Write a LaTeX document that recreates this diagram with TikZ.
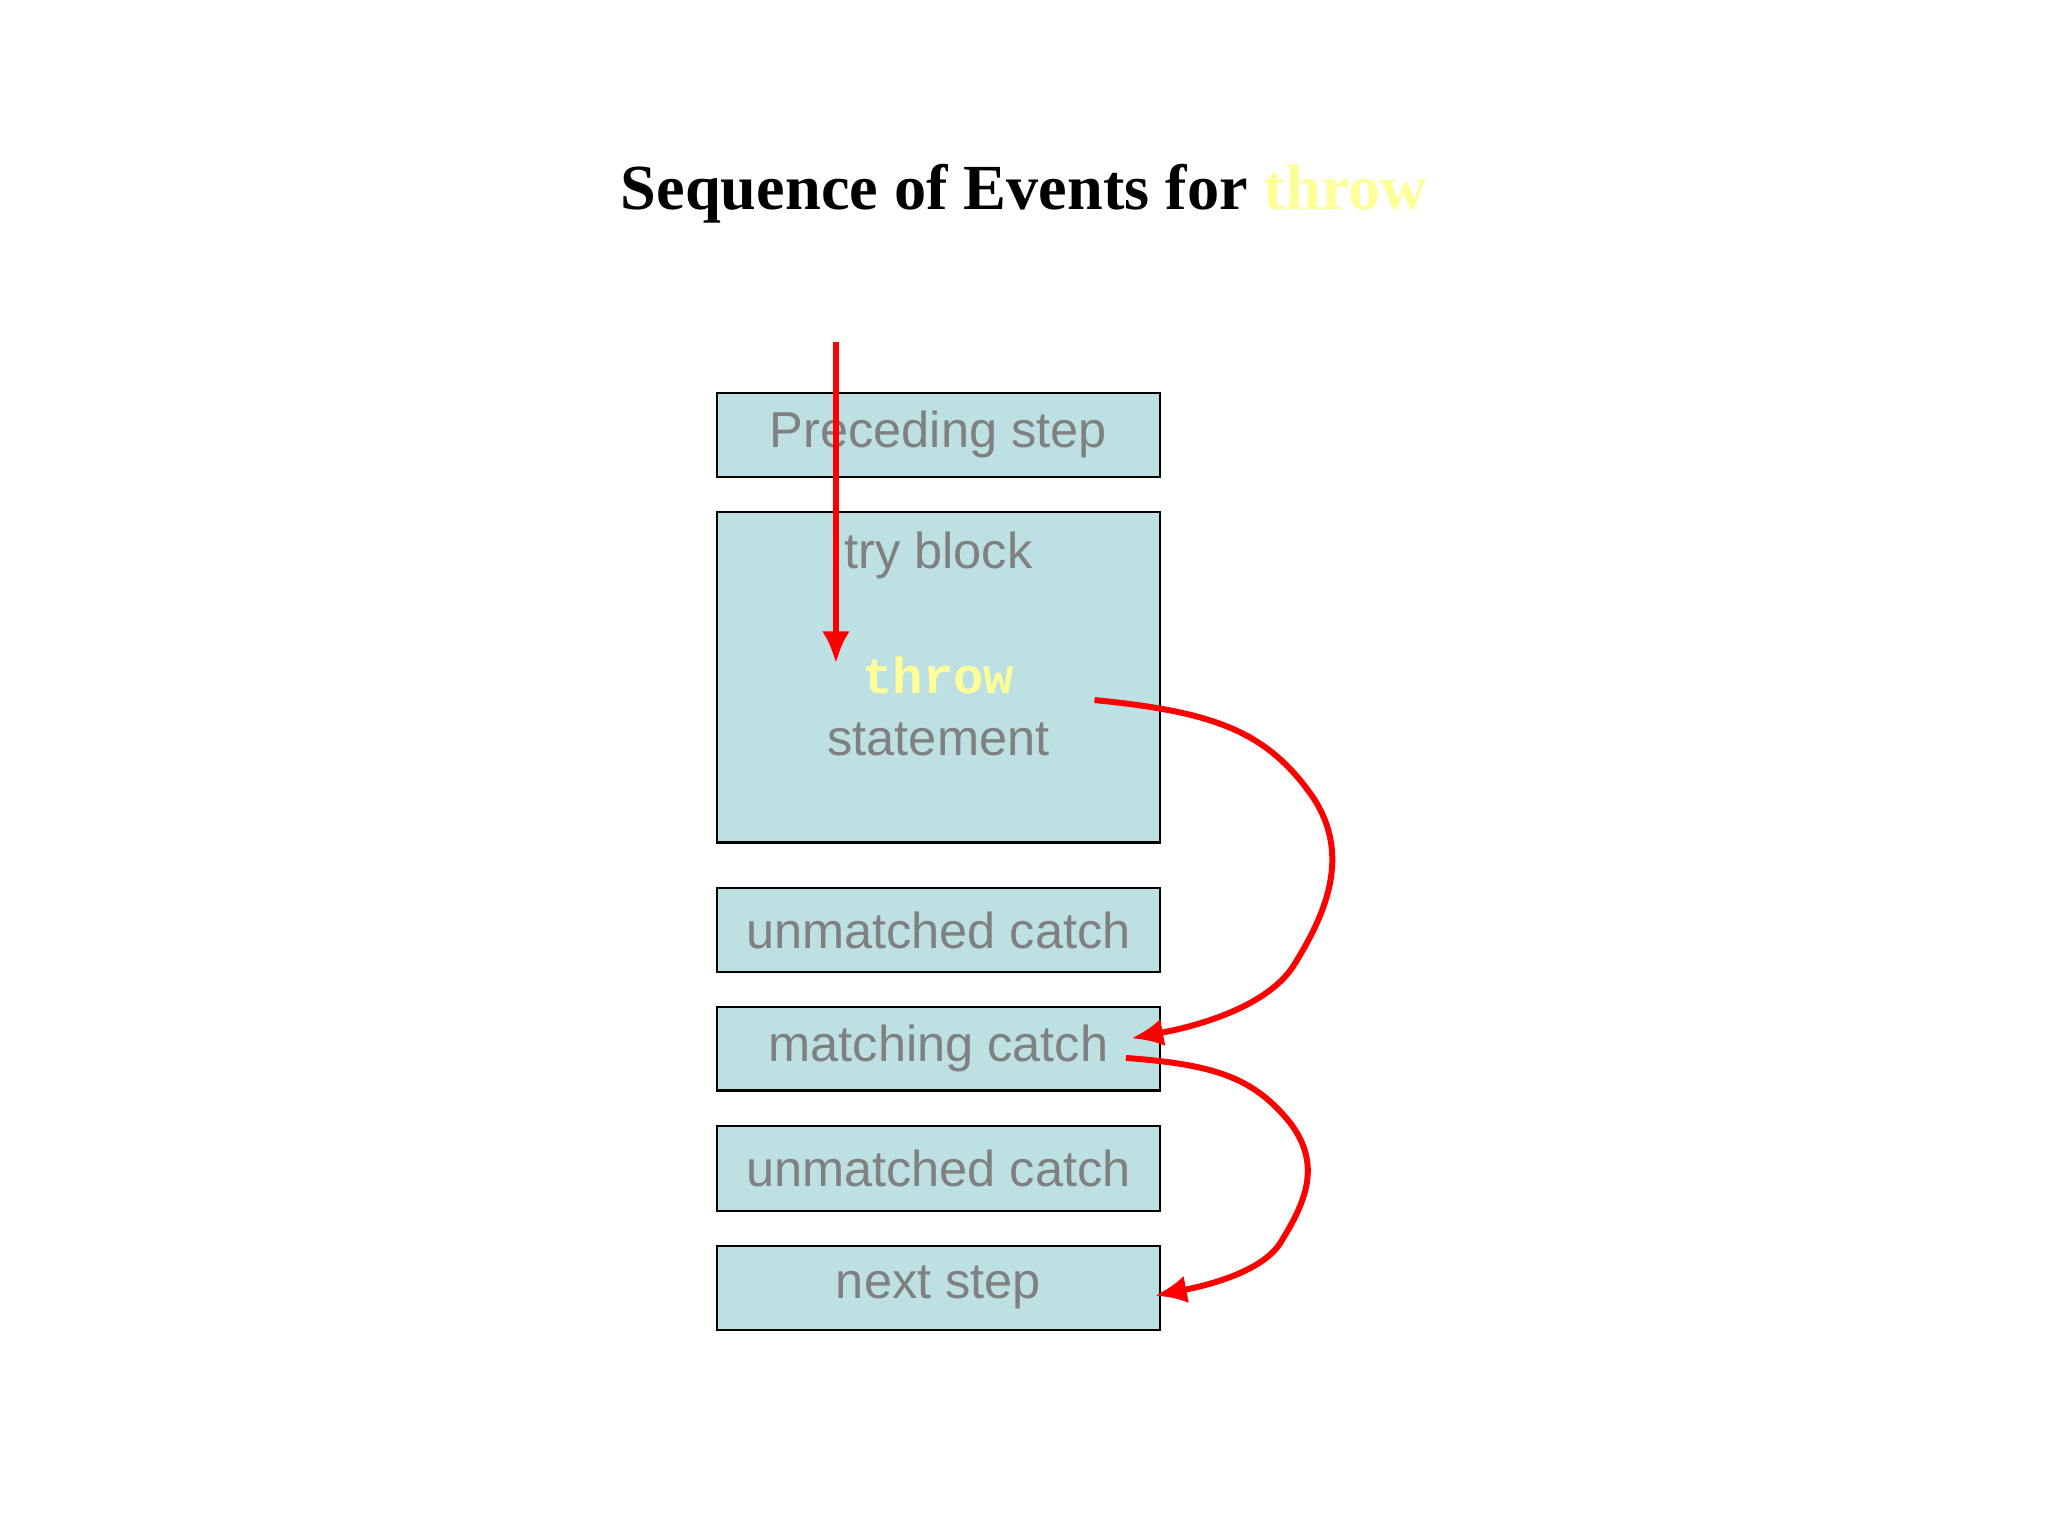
\documentclass[tikz,border=0pt]{standalone}
\usepackage{fontspec}
\setmainfont{Liberation Serif}
\newfontfamily\sansf{Liberation Sans}
\newfontfamily\monof{Liberation Mono}
\usetikzlibrary{arrows.meta}
\definecolor{boxfill}{HTML}{BDE0E3}
\definecolor{txtgray}{HTML}{808080}
\definecolor{throwy}{HTML}{FFFF99}
\begin{document}
\begin{tikzpicture}[x=0.01cm,y=-0.01cm,
  blk/.style={draw=black,fill=boxfill,line width=0.5pt,minimum width=3.39cm,inner sep=0},
  lbl/.style={text=txtgray,font=\sansf\fontsize{11}{13}\selectfont},
  redarr/.style={draw=red,line width=1.3pt,-{Latex[length=7pt,width=6pt]}}]
\useasboundingbox (0,0) rectangle (1568,1176);
\node[font=\bfseries\fontsize{14}{16}\selectfont] (title) at (784,148) {Sequence of Events for \textcolor{throwy}{throw}};
\node[blk,minimum height=0.64cm] (pre) at (718.5,333) {};
\node[lbl] at (pre) {Preceding step};
\node[blk,minimum height=2.53cm] (try) at (718.5,518.5) {};
\node[lbl] (trylbl) at (718.5,425) {try block};
\node[font=\monof\bfseries\fontsize{11}{13}\selectfont,text=throwy] (thr) at (718.5,517) {throw};
\node[lbl] (stm) at (718.5,566) {statement};
\node[blk,minimum height=0.64cm] (u1) at (718.5,712) {};
\node[lbl] at (u1) {unmatched catch};
\node[blk,minimum height=0.64cm] (mc) at (718.5,803) {};
\node[lbl] at (mc) {matching catch};
\node[blk,minimum height=0.65cm] (u2) at (718.5,894.5) {};
\node[lbl] at (u2) {unmatched catch};
\node[blk,minimum height=0.64cm] (nx) at (718.5,986) {};
\node[lbl] at (nx) {next step};
\coordinate (s0) at (640,262);
\coordinate (e0) at (640,508);
\draw[redarr] (s0) -- (e0);
\coordinate (s1) at (838,536);
\coordinate (e1) at (866,795);
\draw[redarr] (s1) .. controls (930,545) and (970,560) .. (1005,610)
  .. controls (1035,655) and (1015,700) .. (990,740)
  .. controls (970,770) and (920,785) .. (e1);
\coordinate (s2) at (862,810);
\coordinate (e2) at (884,992);
\draw[redarr] (s2) .. controls (930,815) and (960,825) .. (988,860)
  .. controls (1012,892) and (1000,920) .. (980,952)
  .. controls (965,975) and (920,985) .. (e2);
\end{tikzpicture}
\end{document}
